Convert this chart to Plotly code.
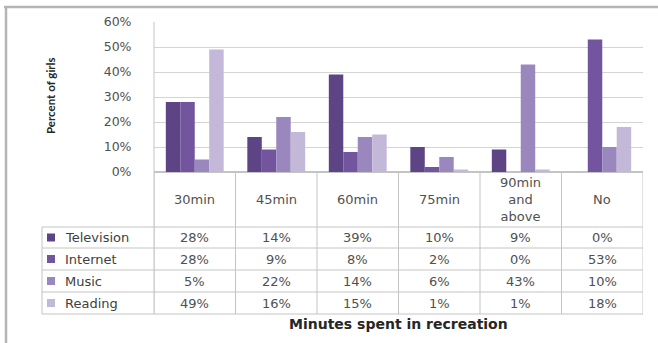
import plotly.graph_objects as go

categories = ["30min", "45min", "60min", "75min", "90min<br>and<br>above", "No"]
series_names = ["Television", "Internet", "Music", "Reading"]
television = [28, 14, 39, 10, 9, 0]
internet = [28, 9, 8, 2, 0, 53]
music = [5, 22, 14, 6, 43, 10]
reading = [49, 16, 15, 1, 1, 18]
y_ticks = [0, 10, 20, 30, 40, 50, 60]
y_title = "Percent of girls"
x_title = "Minutes spent in recreation"
colors = ["#5d4585", "#72559e", "#9a87bd", "#c4b8d9"]

series = [television, internet, music, reading]

W, H = 658, 343
L, R, T, B = 154, 643, 22, 172  # plot area pixels


def px(xp):
    return (xp - L) / (R - L)


def py(yp):
    return (B - yp) / (B - T)


fig = go.Figure()
for name, vals, col in zip(series_names, series, colors):
    fig.add_trace(go.Bar(x=list(range(len(categories))), y=vals, name=name,
                         marker=dict(color=col, line=dict(width=0))))

grid = "#d4d4d4"
tline = "#c4c4c4"
shapes = []
row_y = [227, 248, 270, 292, 314]
for yy in row_y:
    shapes.append(dict(type="line", xref="paper", yref="paper", x0=px(42), x1=px(R), y0=py(yy), y1=py(yy),
                       line=dict(color=tline, width=1)))
n = len(categories)
for i in range(n + 1):
    xv = i - 0.5
    shapes.append(dict(type="line", xref="x", yref="paper", x0=xv, x1=xv,
                       y0=py(B), y1=py(314), line=dict(color=tline, width=1)))
shapes.append(dict(type="line", xref="paper", yref="paper", x0=0, x1=0, y0=1, y1=py(314),
                   line=dict(color=tline, width=1)))
shapes.append(dict(type="line", xref="paper", yref="paper", x0=px(42), x1=px(42), y0=py(227), y1=py(314),
                   line=dict(color=tline, width=1)))
shapes.append(dict(type="line", xref="paper", yref="paper", x0=px(4), x1=px(660), y0=py(7), y1=py(7),
                   line=dict(color="#b5b5b5", width=2.5)))
shapes.append(dict(type="line", xref="paper", yref="paper", x0=px(6), x1=px(6), y0=py(7), y1=py(345),
                   line=dict(color="#b5b5b5", width=2.5)))
for j, col in enumerate(colors):
    yc = (row_y[j] + row_y[j + 1]) / 2
    shapes.append(dict(type="rect", xref="paper", yref="paper", x0=px(47), x1=px(55),
                       y0=py(yc - 4), y1=py(yc + 4), fillcolor=col, line=dict(width=0)))

annotations = []
txt_font = dict(family="DejaVu Sans", size=13, color="#505050")
for i, c in enumerate(categories):
    annotations.append(dict(x=i, y=py(199), xref="x", yref="paper", text=c, showarrow=False,
                            font=txt_font, xanchor="center", yanchor="middle"))
for j, (name, vals) in enumerate(zip(series_names, series)):
    yc = (row_y[j] + row_y[j + 1]) / 2
    for i, v in enumerate(vals):
        annotations.append(dict(x=i, y=py(yc), xref="x", yref="paper", text=f"{v}%", showarrow=False,
                                font=txt_font, xanchor="center", yanchor="middle"))
    annotations.append(dict(x=px(63), y=py(yc), xref="paper", yref="paper", text=name, showarrow=False,
                            font=dict(family="DejaVu Sans", size=13, color="#404040"),
                            xanchor="left", yanchor="middle"))
annotations.append(dict(x=px(398), y=py(324), xref="paper", yref="paper", text=f"<b>{x_title}</b>",
                        showarrow=False, font=dict(family="DejaVu Sans", size=14, color="#262626"),
                        xanchor="center", yanchor="middle"))
annotations.append(dict(x=px(50), y=py(96), xref="paper", yref="paper", text=f"<b>{y_title}</b>",
                        showarrow=False, textangle=-90,
                        font=dict(family="Lato", size=11.5, color="#262626"),
                        xanchor="center", yanchor="middle"))

fig.update_layout(
    width=W, height=H,
    margin=dict(l=L, r=W - R, t=T, b=H - B),
    paper_bgcolor="white", plot_bgcolor="white",
    barmode="group", bargap=0.29, bargroupgap=0,
    showlegend=False,
    xaxis=dict(range=[-0.5, n - 0.5], showticklabels=False, showgrid=False, zeroline=False,
               showline=False, fixedrange=True),
    yaxis=dict(range=[0, 60], tickvals=y_ticks, ticktext=[f"{t}%" for t in y_ticks],
               showgrid=True, gridcolor=grid, gridwidth=1, zeroline=True, zerolinecolor=tline,
               showline=False, ticks="outside", ticklen=19, tickcolor="rgba(0,0,0,0)",
               tickfont=dict(family="DejaVu Sans", size=12.5, color="#505050"), fixedrange=True),
    shapes=shapes, annotations=annotations,
)

fig.write_html("out.html", config={"displayModeBar": False})
